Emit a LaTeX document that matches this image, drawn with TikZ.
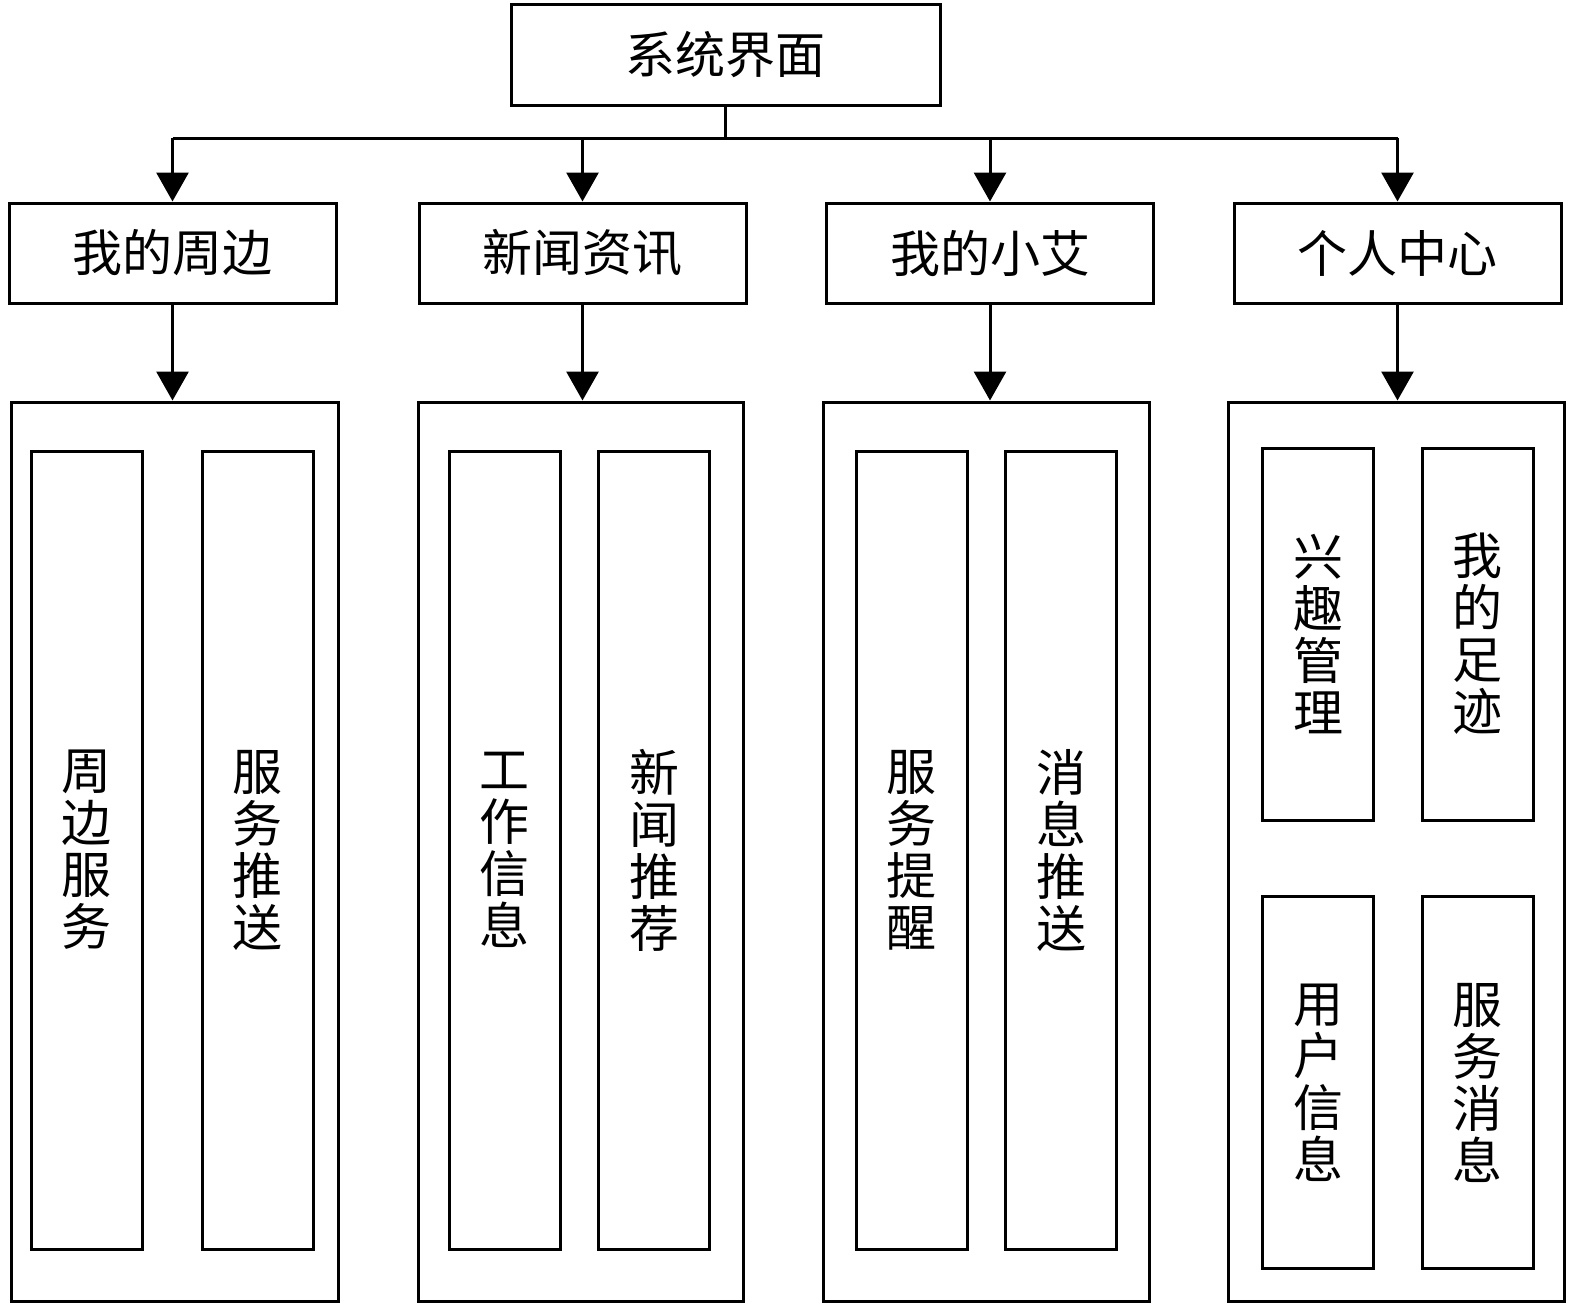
\documentclass[tikz,border=0pt]{standalone}
\usepackage{fontspec}
\newfontfamily\cjk{Noto Sans CJK SC}
\usetikzlibrary{arrows.meta}
\begin{document}
\begin{tikzpicture}[x=0.5pt,y=-0.5pt,line width=1.5pt,>={Triangle[width=16pt,length=14.5pt]},
  box/.style={draw,inner sep=0pt,align=center,font=\cjk\fontsize{25}{26}\selectfont},
  head/.style={box,minimum width=163.5pt,minimum height=50pt},
  frame/.style={draw,inner sep=0pt,minimum height=449.5pt},
  col/.style={box,minimum width=55.5pt,minimum height=399pt},
  half/.style={box,minimum width=55.5pt,minimum height=186pt}]
\useasboundingbox (0,0) rectangle (1575,1306);
\node[box,minimum width=214.5pt,minimum height=50.5pt] (top) at (725.5,54.5) {系统界面};
\coordinate (bus) at (725.5,138);
\node[head] (l1) at (172.5,253) {我的周边};
\node[head] (l2) at (582.5,253) {新闻资讯};
\node[head] (l3) at (990,253) {我的小艾};
\node[head] (l4) at (1397.5,253) {个人中心};
\node[frame,minimum width=163.5pt] (o1) at (174.5,851.5) {};
\node[frame,minimum width=162.5pt] (o2) at (580.5,851.5) {};
\node[frame,minimum width=163pt] (o3) at (986,851.5) {};
\node[frame,minimum width=168pt] (o4) at (1396,851.5) {};
\node[col] (c11) at (86.5,850) {周\\边\\服\\务};
\node[col] (c12) at (257.5,850) {服\\务\\推\\送};
\node[col] (c21) at (504.5,850) {工\\作\\信\\息};
\node[col] (c22) at (654,850) {新\\闻\\推\\荐};
\node[col] (c31) at (911.5,850) {服\\务\\提\\醒};
\node[col] (c32) at (1061,850) {消\\息\\推\\送};
\node[half] (c41) at (1318,634) {兴\\趣\\管\\理};
\node[half] (c42) at (1477.5,634) {我\\的\\足\\迹};
\node[half] (c43) at (1318,1082.5) {用\\户\\信\\息};
\node[half] (c44) at (1477.5,1082.5) {服\\务\\消\\息};
\draw (top.south) -- (bus);
\draw (l1.north |- bus) -- (l4.north |- bus);
\foreach \i in {1,...,4}{
  \draw[->] (l\i.north |- bus) -- (l\i.north);
  \draw[->] (l\i.south) -- (l\i.south |- o\i.north);
}
\end{tikzpicture}
\end{document}
